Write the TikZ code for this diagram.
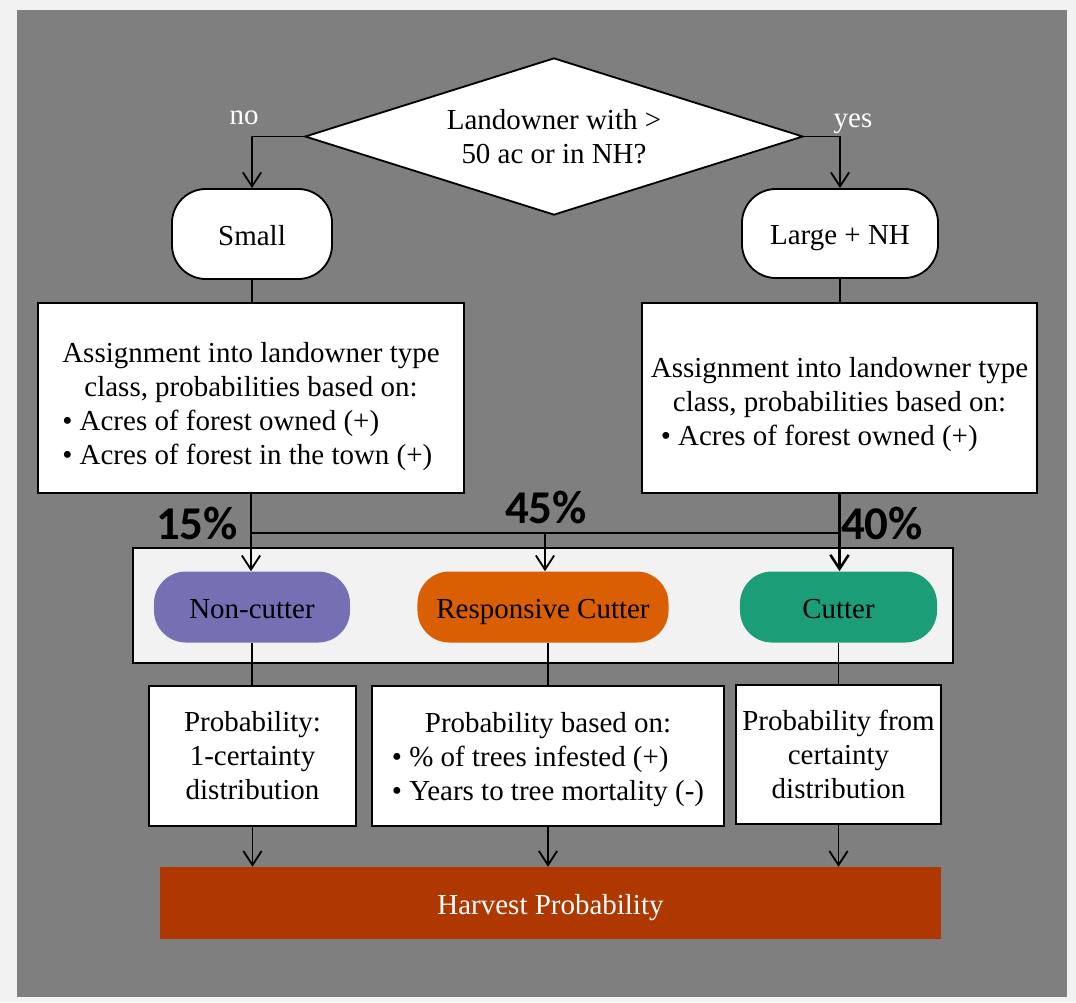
\documentclass[tikz,border=0pt]{standalone}
\usepackage{fontspec}
\setmainfont{Liberation Serif}
\newfontfamily\pctfont{Carlito}
\usetikzlibrary{arrows.meta, shapes.geometric}
\definecolor{framegray}{RGB}{242,242,242}
\definecolor{bggray}{RGB}{127,127,127}
\definecolor{panelgray}{RGB}{242,242,242}
\definecolor{noncpurple}{RGB}{117,112,179}
\definecolor{resporange}{RGB}{217,95,2}
\definecolor{cutgreen}{RGB}{27,158,119}
\definecolor{harvred}{RGB}{175,55,0}
\newcommand{\ctr}[1]{\multicolumn{1}{@{}c@{}}{#1}}

\begin{document}
\begin{tikzpicture}[x=0.025cm, y=-0.025cm,
    every node/.style={font=\fontsize{20.6}{24.2}\selectfont},
    oneline/.style={text height=18pt, text depth=2pt},
    box/.style={draw, line width=1.3pt, fill=white, inner sep=2pt, align=center},
    decision/.style={draw, line width=1.3pt, fill=white, diamond, aspect=3.17, inner sep=0pt, align=center},
    terminal/.style={draw, line width=1.3pt, fill=white, rounded corners=0.85cm, oneline},
    pill/.style={rounded corners=0.8cm, minimum height=1.775cm, oneline},
    pct/.style={font=\pctfont\bfseries\fontsize{33.4}{40}\selectfont},
    link/.style={line width=1.3pt},
    arr/.style={line width=1.3pt, -{Straight Barb[length=10pt, width=13pt]}}]
  \fill[framegray] (0,0) rectangle (1076,1002);
  \useasboundingbox (0,0) rectangle (1076,1002);
  \fill[bggray] (17,10) rectangle (1067,997);

  \node[decision, minimum width=12.45cm, minimum height=3.925cm] (dec) at (554,136.5) {Landowner with >\\50 ac or in NH?};
  \node[white, anchor=base] (no) at (244,124) {no};
  \node[white, anchor=base] (yes) at (853,127) {yes};

  \node[terminal, minimum width=4cm, minimum height=2.25cm] (small) at (252,234) {Small};
  \node[terminal, minimum width=4.9cm, minimum height=2.225cm] (large) at (840,233.5) {Large + NH};

  \node[box, minimum width=10.65cm, minimum height=4.75cm, text height=23.1pt, text depth=0pt] (asl) at (251,398) {%
    \begin{tabular}{@{}l@{}}
      \ctr{Assignment into landowner type}\\
      \ctr{class, probabilities based on:}\\
      \textbullet\ Acres of forest owned (+)\\
      \textbullet\ Acres of forest in the town (+)
    \end{tabular}};
  \node[box, minimum width=9.875cm, minimum height=4.75cm, text height=20.3pt, text depth=0pt] (asr) at (839.5,398) {%
    \begin{tabular}{@{}l@{}}
      \ctr{Assignment into landowner type}\\
      \ctr{class, probabilities based on:}\\
      \hspace{0.25cm}\textbullet\ Acres of forest owned (+)
    \end{tabular}};

  \draw[arr] (dec.west) -| (small.north);
  \draw[arr] (dec.east) -| (large.north);
  \draw[link] (small.south) -- (small.south |- asl.north);
  \draw[link] (large.south) -- (large.south |- asr.north);

  \draw[draw=black, fill=panelgray, line width=1.3pt] (133,548) rectangle (953,663);
  \node[pill, fill=noncpurple, minimum width=4.9cm] (nonc) at (252,607) {Non-cutter};
  \node[pill, fill=resporange, minimum width=6.275cm] (resp) at (543,607) {Responsive Cutter};
  \node[pill, fill=cutgreen, minimum width=4.925cm] (cut) at (838.5,607) {Cutter};

  \coordinate (split) at (545,533);
  \draw[link] (asl.south |- split) -- (asr.south |- split);
  \draw[arr] (asl.south) -- (asl.south |- nonc.north);
  \draw[arr] (split) -- (split |- resp.north);
  \draw[arr, line width=1.8pt] (asr.south) -- (asr.south |- cut.north);

  \node[pct] (p15) at (197,523) {15\%};
  \node[pct] (p45) at (546,507) {45\%};
  \node[pct] (p40) at (882,523) {40\%};

  \node[box, minimum width=5.175cm, minimum height=3.5cm] (pl) at (252.5,756) {Probability:\\1-certainty\\distribution};
  \node[box, minimum width=8.8cm, minimum height=3.5cm, text height=15.9pt, text depth=0pt] (pm) at (548,756) {%
    \begin{tabular}{@{}l@{}}
      \ctr{Probability based on:}\\
      \textbullet\ \% of trees infested (+)\\
      \textbullet\ Years to tree mortality (-)
    \end{tabular}};
  \node[box, minimum width=5.125cm, minimum height=3.475cm] (pr) at (838.5,754.5) {Probability from\\certainty\\distribution};

  \draw[link] (nonc.south) -- (nonc.south |- pl.north);
  \draw[link] (pm.north |- resp.south) -- (pm.north);
  \draw[link] (cut.south) -- (cut.south |- pr.north);

  \node[fill=harvred, text=white, minimum width=19.525cm, minimum height=1.8cm, oneline] (harv) at (550.5,903) {Harvest Probability};

  \draw[arr] (pl.south) -- (pl.south |- harv.north);
  \draw[arr] (pm.south) -- (pm.south |- harv.north);
  \draw[arr] (pr.south) -- (pr.south |- harv.north);
\end{tikzpicture}
\end{document}
